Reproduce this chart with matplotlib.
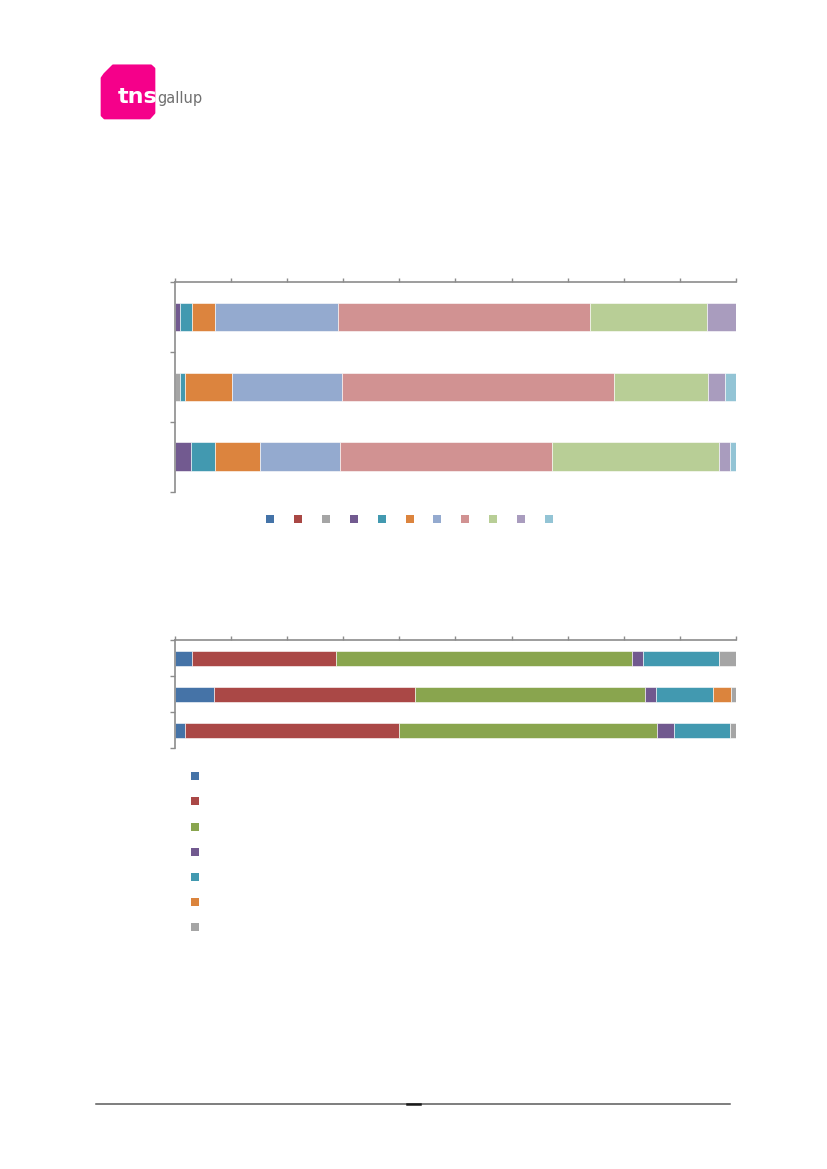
import numpy as np
import matplotlib
matplotlib.use('Agg')
import matplotlib.pyplot as plt
from matplotlib.patches import Patch, Polygon

# --- data (shares in %, rows listed top to bottom) ---
colors1 = ['#4473A8', '#A94744', '#A5A5A5', '#725A90', '#4299B0', '#DC843E',
           '#94AACF', '#D19292', '#B8CE96', '#A99CBE', '#93C4D5']
labels1 = [''] * 11
values1 = [
    [0, 0, 0, 1.0, 2.0, 4.2, 21.9, 44.8, 20.8, 5.3, 0],
    [0, 0, 0.9, 0, 1.0, 8.3, 19.6, 48.4, 16.7, 3.1, 2.0],
    [0, 0, 0, 2.9, 4.2, 8.1, 14.2, 37.7, 29.8, 2.0, 1.1],
]

colors2 = ['#4573A7', '#AA4846', '#89A54E', '#71598F', '#4299B0', '#DB843D', '#A5A5A5']
labels2 = [''] * 7
values2 = [
    [3.0, 25.8, 52.6, 2.0, 13.5, 0, 3.1],
    [7.0, 35.8, 40.9, 2.0, 10.2, 3.1, 1.0],
    [1.8, 38.1, 46.0, 3.0, 9.9, 0, 1.2],
]

W, H = 827, 1169
fig = plt.figure(figsize=(W / 100, H / 100), dpi=100)
axis_grey = '#8C8C8C'


def stacked(rect, values, colors, bar_h):
    ax = fig.add_axes(rect)
    vals = np.array(values, dtype=float)
    rows = np.arange(len(vals))
    left = np.zeros(len(vals))
    for j, c in enumerate(colors):
        ax.barh(rows, vals[:, j], left=left, height=bar_h, color=c,
                edgecolor='white', linewidth=0.4)
        left += vals[:, j]
    ax.set_xlim(0, 100)
    ax.set_ylim(len(vals) - 0.5, -0.5)
    ax.xaxis.tick_top()
    ax.set_xticks(np.arange(0, 101, 10))
    ax.set_yticks(np.arange(len(vals) + 1) - 0.5)
    ax.tick_params(axis='x', direction='out', length=3, width=1, color=axis_grey,
                   labeltop=False, labelbottom=False)
    ax.tick_params(axis='y', direction='out', length=3.4, width=1, color=axis_grey,
                   labelleft=False)
    for s in ['right', 'bottom']:
        ax.spines[s].set_visible(False)
    for s in ['left', 'top']:
        ax.spines[s].set_color(axis_grey)
        ax.spines[s].set_linewidth(1.2)
    return ax


def fx(px):
    return px / W


def fy(py):
    return 1 - py / H


ax1 = stacked([fx(174.7), fy(491.7), (736.3 - 174.7) / W, (491.7 - 282) / H],
              values1, colors1, 0.41)
ax2 = stacked([fx(174.7), fy(748.3), (736.3 - 174.7) / W, (748.3 - 640.3) / H],
              values2, colors2, 0.41)

# legends (labels are blank in the source)
h1 = [Patch(facecolor=c, edgecolor='none') for c in colors1]
fig.legend(h1, labels1, loc='center', bbox_to_anchor=(fx(409.5), fy(520)),
           ncol=11, frameon=False, fontsize=8, handlelength=0.72, handleheight=0.72,
           handletextpad=0, columnspacing=1.79, borderpad=0, borderaxespad=0)

h2 = [Patch(facecolor=c, edgecolor='none') for c in colors2]
fig.legend(h2, labels2, loc='upper left', bbox_to_anchor=(fx(191), fy(772)),
           ncol=1, frameon=False, fontsize=8, handlelength=0.72, handleheight=0.72,
           handletextpad=0, labelspacing=1.37, borderpad=0, borderaxespad=0)

# page decorations: logo and footer rule
deco = fig.add_axes([0, 0, 1, 1], zorder=-1)
deco.set_xlim(0, W)
deco.set_ylim(H, 0)
deco.axis('off')
logo = [(113, 65.5), (151, 65.5), (154.3, 68.5), (154.3, 113), (149.5, 118.3),
        (104.5, 118.3), (101.7, 115.5), (101.7, 78), (104.5, 74)]
deco.add_patch(Polygon(logo, closed=True, facecolor='#F5008A', edgecolor='#F5008A',
                       linewidth=1.5, joinstyle='round'))
deco.text(117.5, 103, 'tns', color='white', fontsize=16, fontweight='bold',
          family='DejaVu Sans', va='baseline', ha='left')
deco.text(157, 103, 'gallup', color='#707070', fontsize=10.5,
          family='DejaVu Sans', va='baseline', ha='left')
deco.plot([96, 730], [1104, 1104], color='#5A5A5A', linewidth=1.1)
deco.plot([407, 420], [1104, 1104], color='#1A1A1A', linewidth=1.8)

fig.savefig('out.png', dpi=100)
